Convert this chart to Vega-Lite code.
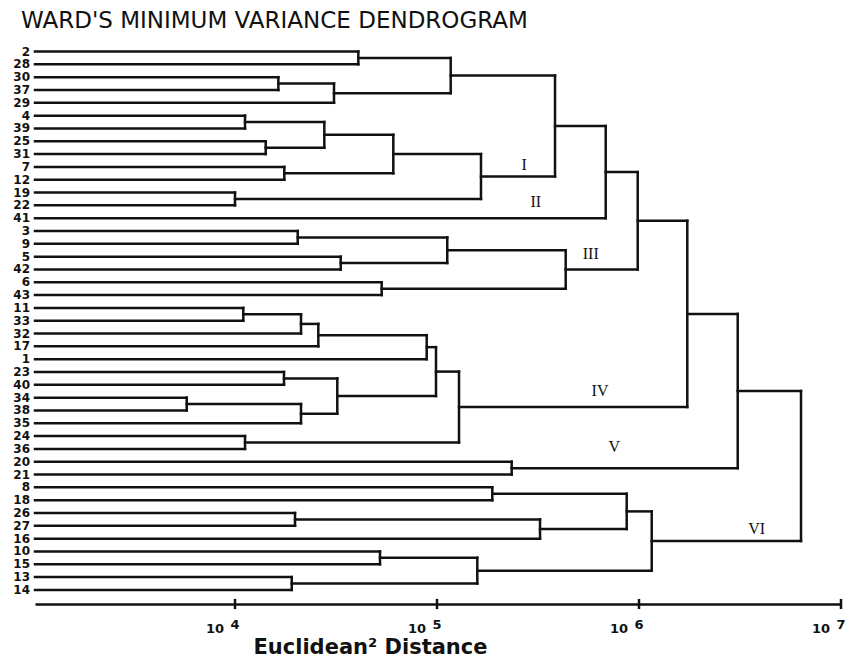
{
  "$schema": "https://vega.github.io/schema/vega-lite/v6.json",
  "width": 806,
  "height": 564,
  "autosize": "none",
  "padding": {"left": 35, "top": 40, "right": 4, "bottom": 62},
  "background": "white",
  "title": {"text": "WARD'S MINIMUM VARIANCE DENDROGRAM", "anchor": "start", "frame": "group", "dx": -14, "dy": 23, "font": "DejaVu Sans", "fontSize": 23, "fontWeight": "normal", "color": "#111111", "baseline": "alphabetic", "offset": 12},
  "config": {"view": {"stroke": null}},
  "datasets": {
    "nodes": [
      {"n": 1, "h": 40780, "ya": 0, "ha": 1023, "yb": 1, "hb": 1023},
      {"n": 2, "h": 16390, "ya": 2, "ha": 1023, "yb": 3, "hb": 1023},
      {"n": 3, "h": 30910, "ya": 2.5, "ha": 16390, "yb": 4, "hb": 1023},
      {"n": 4, "h": 116900, "ya": 0.5, "ha": 40780, "yb": 3.25, "hb": 30910},
      {"n": 5, "h": 11210, "ya": 5, "ha": 1023, "yb": 6, "hb": 1023},
      {"n": 6, "h": 14190, "ya": 7, "ha": 1023, "yb": 8, "hb": 1023},
      {"n": 7, "h": 27680, "ya": 5.5, "ha": 11210, "yb": 7.5, "hb": 14190},
      {"n": 8, "h": 17540, "ya": 9, "ha": 1023, "yb": 10, "hb": 1023},
      {"n": 9, "h": 60770, "ya": 6.5, "ha": 27680, "yb": 9.5, "hb": 17540},
      {"n": 10, "h": 10000, "ya": 11, "ha": 1023, "yb": 12, "hb": 1023},
      {"n": 11, "h": 165100, "ya": 8, "ha": 60770, "yb": 11.5, "hb": 10000},
      {"n": 12, "h": 383900, "ya": 1.875, "ha": 116900, "yb": 9.75, "hb": 165100},
      {"n": 13, "h": 684200, "ya": 5.8125, "ha": 383900, "yb": 13, "hb": 1023},
      {"n": 14, "h": 20440, "ya": 14, "ha": 1023, "yb": 15, "hb": 1023},
      {"n": 15, "h": 33370, "ya": 16, "ha": 1023, "yb": 17, "hb": 1023},
      {"n": 16, "h": 112400, "ya": 14.5, "ha": 20440, "yb": 16.5, "hb": 33370},
      {"n": 17, "h": 53230, "ya": 18, "ha": 1023, "yb": 19, "hb": 1023},
      {"n": 18, "h": 433600, "ya": 15.5, "ha": 112400, "yb": 18.5, "hb": 53230},
      {"n": 19, "h": 985400, "ya": 9.40625, "ha": 684200, "yb": 17, "hb": 433600},
      {"n": 20, "h": 10990, "ya": 20, "ha": 1023, "yb": 21, "hb": 1023},
      {"n": 21, "h": 21220, "ya": 20.5, "ha": 10990, "yb": 22, "hb": 1023},
      {"n": 22, "h": 25850, "ya": 21.25, "ha": 21220, "yb": 23, "hb": 1023},
      {"n": 23, "h": 88920, "ya": 22.125, "ha": 25850, "yb": 24, "hb": 1023},
      {"n": 24, "h": 17480, "ya": 25, "ha": 1023, "yb": 26, "hb": 1023},
      {"n": 25, "h": 5767, "ya": 27, "ha": 1023, "yb": 28, "hb": 1023},
      {"n": 26, "h": 21220, "ya": 27.5, "ha": 5767, "yb": 29, "hb": 1023},
      {"n": 27, "h": 32090, "ya": 25.5, "ha": 17480, "yb": 28.25, "hb": 21220},
      {"n": 28, "h": 98860, "ya": 23.0625, "ha": 88920, "yb": 26.875, "hb": 32090},
      {"n": 29, "h": 11210, "ya": 30, "ha": 1023, "yb": 31, "hb": 1023},
      {"n": 30, "h": 128500, "ya": 24.96875, "ha": 98860, "yb": 30.5, "hb": 11210},
      {"n": 31, "h": 1734000, "ya": 13.203, "ha": 985400, "yb": 27.734, "hb": 128500},
      {"n": 32, "h": 234300, "ya": 32, "ha": 1023, "yb": 33, "hb": 1023},
      {"n": 33, "h": 3081000, "ya": 20.469, "ha": 1734000, "yb": 32.5, "hb": 234300},
      {"n": 34, "h": 187800, "ya": 34, "ha": 1023, "yb": 35, "hb": 1023},
      {"n": 35, "h": 19820, "ya": 36, "ha": 1023, "yb": 37, "hb": 1023},
      {"n": 36, "h": 323600, "ya": 36.5, "ha": 19820, "yb": 38, "hb": 1023},
      {"n": 37, "h": 869200, "ya": 34.5, "ha": 187800, "yb": 37.25, "hb": 323600},
      {"n": 38, "h": 52210, "ya": 39, "ha": 1023, "yb": 40, "hb": 1023},
      {"n": 39, "h": 19090, "ya": 41, "ha": 1023, "yb": 42, "hb": 1023},
      {"n": 40, "h": 158300, "ya": 39.5, "ha": 52210, "yb": 41.5, "hb": 19090},
      {"n": 41, "h": 1156000, "ya": 35.875, "ha": 869200, "yb": 40.5, "hb": 158300},
      {"n": 42, "h": 6339000, "ya": 26.484, "ha": 3081000, "yb": 38.1875, "hb": 1156000}
    ],
    "leaves": [
      {"i": 0, "lab": "2"}, {"i": 1, "lab": "28"}, {"i": 2, "lab": "30"}, {"i": 3, "lab": "37"},
      {"i": 4, "lab": "29"}, {"i": 5, "lab": "4"}, {"i": 6, "lab": "39"}, {"i": 7, "lab": "25"},
      {"i": 8, "lab": "31"}, {"i": 9, "lab": "7"}, {"i": 10, "lab": "12"}, {"i": 11, "lab": "19"},
      {"i": 12, "lab": "22"}, {"i": 13, "lab": "41"}, {"i": 14, "lab": "3"}, {"i": 15, "lab": "9"},
      {"i": 16, "lab": "5"}, {"i": 17, "lab": "42"}, {"i": 18, "lab": "6"}, {"i": 19, "lab": "43"},
      {"i": 20, "lab": "11"}, {"i": 21, "lab": "33"}, {"i": 22, "lab": "32"}, {"i": 23, "lab": "17"},
      {"i": 24, "lab": "1"}, {"i": 25, "lab": "23"}, {"i": 26, "lab": "40"}, {"i": 27, "lab": "34"},
      {"i": 28, "lab": "38"}, {"i": 29, "lab": "35"}, {"i": 30, "lab": "24"}, {"i": 31, "lab": "36"},
      {"i": 32, "lab": "20"}, {"i": 33, "lab": "21"}, {"i": 34, "lab": "8"}, {"i": 35, "lab": "18"},
      {"i": 36, "lab": "26"}, {"i": 37, "lab": "27"}, {"i": 38, "lab": "16"}, {"i": 39, "lab": "10"},
      {"i": 40, "lab": "15"}, {"i": 41, "lab": "13"}, {"i": 42, "lab": "14"}
    ],
    "ticks": [
      {"v": 10000, "e": "4"}, {"v": 100000, "e": "5"}, {"v": 1000000, "e": "6"}, {"v": 10000000, "e": "7"}
    ],
    "groups": [
      {"g": "I", "d": 270400, "p": 8.85},
      {"g": "II", "d": 308100, "p": 11.71},
      {"g": "III", "d": 576800, "p": 15.81},
      {"g": "IV", "d": 641200, "p": 26.52},
      {"g": "V", "d": 755000, "p": 30.88},
      {"g": "VI", "d": 3826000, "p": 37.24}
    ]
  },
  "layer": [
    {
      "data": {"name": "nodes"},
      "mark": {"type": "rule", "color": "#111111", "strokeWidth": 2.5, "strokeCap": "square"},
      "encoding": {
        "x": {"field": "h", "type": "quantitative", "scale": {"type": "log", "domain": [1023, 10000000], "nice": false},
          "axis": {"domain": true, "domainColor": "#111111", "domainWidth": 2.5, "ticks": false, "labels": false, "grid": false,
            "title": "Euclidean² Distance", "titleFont": "DejaVu Sans", "titleFontSize": 21, "titleFontWeight": "bold", "titleColor": "#111111",
            "titleX": 335, "titleY": 49, "titleAlign": "center", "titleBaseline": "alphabetic", "titleAnchor": null}},
        "y": {"field": "ya", "type": "quantitative", "scale": {"domain": [-0.9, 43.1], "reverse": true, "nice": false, "zero": false}, "axis": null},
        "y2": {"field": "yb"}
      }
    },
    {
      "data": {"name": "nodes"},
      "mark": {"type": "rule", "color": "#111111", "strokeWidth": 2.5, "strokeCap": "square"},
      "encoding": {
        "x": {"field": "ha", "type": "quantitative", "scale": {"type": "log", "domain": [1023, 10000000], "nice": false}},
        "x2": {"field": "h"},
        "y": {"field": "ya", "type": "quantitative", "scale": {"domain": [-0.9, 43.1], "reverse": true, "nice": false, "zero": false}, "axis": null}
      }
    },
    {
      "data": {"name": "nodes"},
      "mark": {"type": "rule", "color": "#111111", "strokeWidth": 2.5, "strokeCap": "square"},
      "encoding": {
        "x": {"field": "hb", "type": "quantitative", "scale": {"type": "log", "domain": [1023, 10000000], "nice": false}},
        "x2": {"field": "h"},
        "y": {"field": "yb", "type": "quantitative", "scale": {"domain": [-0.9, 43.1], "reverse": true, "nice": false, "zero": false}, "axis": null}
      }
    },
    {
      "data": {"name": "ticks"},
      "mark": {"type": "rule", "color": "#111111", "strokeWidth": 2.5},
      "encoding": {
        "x": {"field": "v", "type": "quantitative"},
        "y": {"datum": 42.7, "type": "quantitative"},
        "y2": {"datum": 43.5}
      }
    },
    {
      "data": {"name": "ticks"},
      "mark": {"type": "text", "text": "10", "align": "right", "baseline": "alphabetic", "dx": -11, "dy": 29, "font": "DejaVu Sans", "fontSize": 13, "fontWeight": "bold", "color": "#111111"},
      "encoding": {
        "x": {"field": "v", "type": "quantitative"},
        "y": {"datum": 43.1, "type": "quantitative"}
      }
    },
    {
      "data": {"name": "ticks"},
      "mark": {"type": "text", "align": "center", "baseline": "alphabetic", "dx": 0, "dy": 25, "font": "DejaVu Sans", "fontSize": 13, "fontWeight": "bold", "color": "#111111"},
      "encoding": {
        "x": {"field": "v", "type": "quantitative"},
        "y": {"datum": 43.1, "type": "quantitative"},
        "text": {"field": "e"}
      }
    },
    {
      "data": {"name": "leaves"},
      "mark": {"type": "text", "align": "right", "baseline": "middle", "dx": -5, "font": "DejaVu Sans", "fontSize": 12, "fontWeight": "bold", "color": "#111111"},
      "encoding": {
        "x": {"value": 0},
        "y": {"field": "i", "type": "quantitative"},
        "text": {"field": "lab"}
      }
    },
    {
      "data": {"name": "groups"},
      "mark": {"type": "text", "align": "center", "baseline": "middle", "font": "Liberation Serif", "fontSize": 16, "color": "#111111"},
      "encoding": {
        "x": {"field": "d", "type": "quantitative"},
        "y": {"field": "p", "type": "quantitative"},
        "text": {"field": "g"}
      }
    }
  ]
}
